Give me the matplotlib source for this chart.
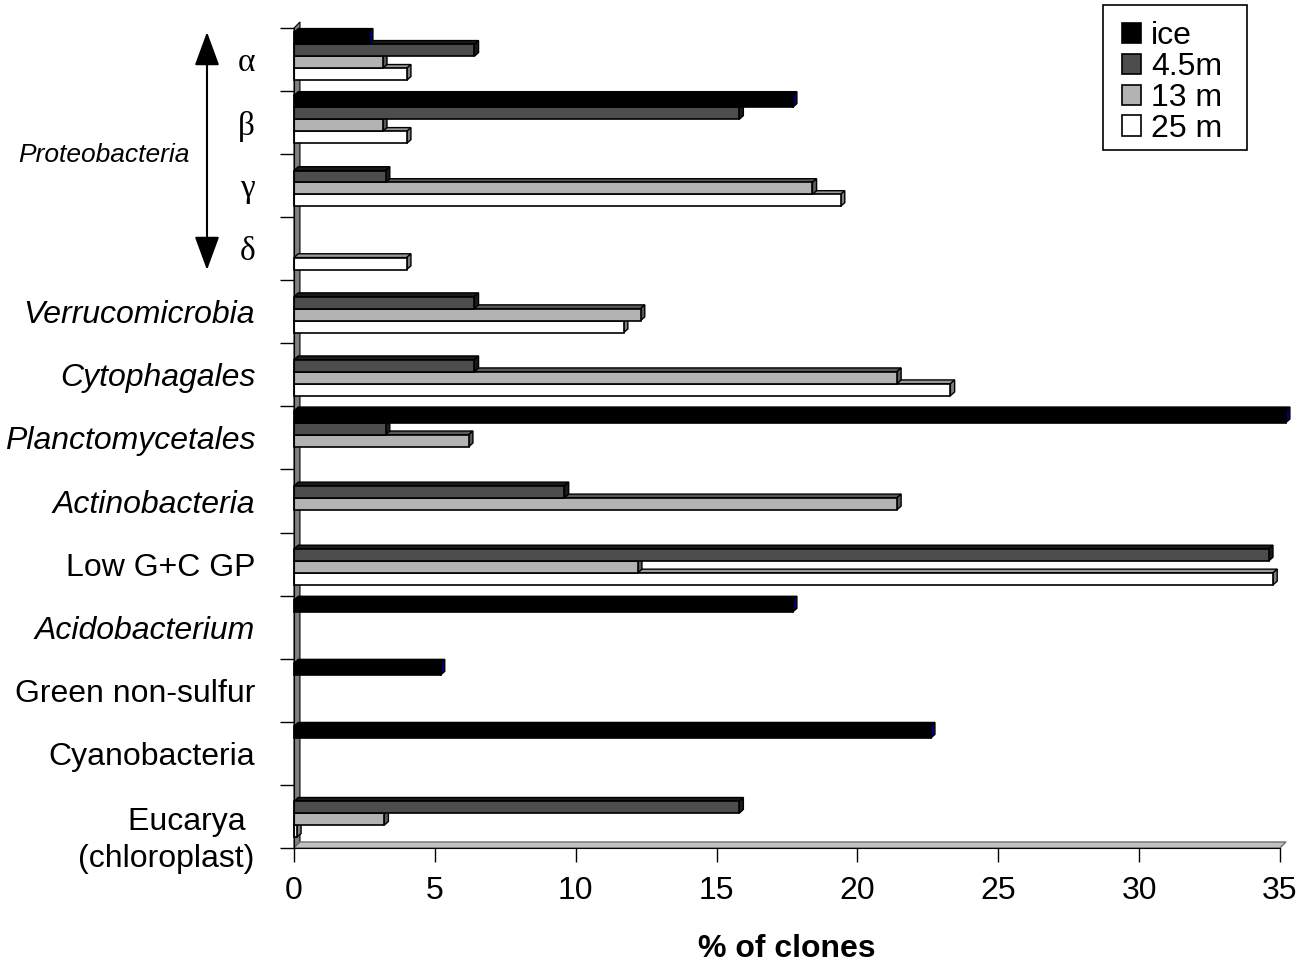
import matplotlib.pyplot as plt
from matplotlib.patches import Polygon, Patch, Rectangle, FancyArrowPatch
import numpy as np

plt.rcParams['font.family'] = ['Liberation Sans', 'DejaVu Sans']

# categories top to bottom
categories = ['α', 'β', 'γ', 'δ', 'Verrucomicrobia', 'Cytophagales',
              'Planctomycetales', 'Actinobacteria', 'Low G+C GP',
              'Acidobacterium', 'Green non-sulfur', 'Cyanobacteria',
              'Eucarya\n(chloroplast)']
italic_cats = ['Verrucomicrobia', 'Cytophagales', 'Planctomycetales',
               'Actinobacteria', 'Acidobacterium']
greek = ['α', 'β', 'γ', 'δ']

series = ['ice', '4.5m', '13 m', '25 m']
ice = [2.65, 17.7, 0, 0, 0, 0, 35.2, 0, 0, 17.7, 5.2, 22.6, 0]
m45 = [6.4, 15.8, 3.25, 0, 6.4, 6.4, 3.25, 9.6, 34.6, 0, 0, 0, 15.8]
m13 = [3.15, 3.15, 18.4, 0, 12.3, 21.4, 6.2, 21.4, 12.2, 0, 0, 0, 3.2]
m25 = [4.0, 4.0, 19.4, 4.0, 11.7, 23.3, 0, 0, 34.75, 0, 0, 0, 0.1]
values = [ice, m45, m13, m25]

front_cols = ['#000000', '#4d4d4d', '#b3b3b3', '#ffffff']
top_cols = ['#000000', '#1a1a1a', '#5a5a5a', '#9a9a9a']
side_cols = ['#000070', '#1a1a1a', '#5a5a5a', '#808080']

fig = plt.figure(figsize=(13.15, 9.67), dpi=100)
ax = fig.add_axes([0.2236, 0.1231, 0.7498, 0.8480])
n = len(categories)
ax.set_xlim(0, 35)
ax.set_ylim(n, 0)

dx, dy = 0.15, 0.06
bh = 0.19
off = 0.07

# back wall and floor
wdx, wdy = 0.21, 0.095
ax.add_patch(Polygon([(0, n), (0, 0), (wdx, -wdy), (wdx, n - wdy)],
                     closed=True, facecolor='#808080', edgecolor='black',
                     lw=0.8, clip_on=False, zorder=1))
ax.add_patch(Polygon([(0, n), (35, n), (35 + wdx, n - wdy), (wdx, n - wdy)],
                     closed=True, facecolor='#c0c0c0', edgecolor='#707070',
                     lw=1.0, clip_on=False, zorder=1))

# bars, bottom series first so upper bars cover the faces below
for j in range(3, -1, -1):
    for i in range(n):
        v = values[j][i]
        if v <= 0:
            continue
        top = i + off + j * bh
        bot = top + bh
        z = 2 + (3 - j)
        ax.add_patch(Polygon([(0, top), (v, top), (v + dx, top - dy), (dx, top - dy)],
                             closed=True, facecolor=top_cols[j], edgecolor='black',
                             lw=1.0, clip_on=False, zorder=z))
        ax.add_patch(Polygon([(v, top), (v, bot), (v + dx, bot - dy), (v + dx, top - dy)],
                             closed=True, facecolor=side_cols[j], edgecolor='black',
                             lw=1.0, clip_on=False, zorder=z))
        ax.barh(i + off + j * bh, v, height=bh, align='edge', color=front_cols[j],
                edgecolor='black', lw=1.2, zorder=z, clip_on=False)

# axes styling
for s in ['top', 'right']:
    ax.spines[s].set_visible(False)
ax.spines['left'].set_zorder(10)
ax.spines['bottom'].set_zorder(10)
ax.set_yticks(np.arange(n + 1))
ax.set_yticklabels([])
ax.tick_params(axis='y', which='major', direction='out', length=10, width=1)
ax.set_yticks(np.arange(n) + 0.5, minor=True)
labels = [c if not c.startswith('Eucarya') else '' for c in categories]
ax.set_yticklabels(labels, minor=True, fontsize=23)
ax.tick_params(axis='y', which='minor', length=0, pad=28)
for lab in ax.get_yticklabels(minor=True):
    t = lab.get_text()
    if t in italic_cats:
        lab.set_style('italic')
    if t in greek:
        lab.set_family('Liberation Serif')
        lab.set_fontsize(24)
ax.text(-0.0406, 12.35, 'Eucarya \n(chloroplast)', transform=ax.get_yaxis_transform(),
        ha='right', va='top', fontsize=23, multialignment='right', linespacing=1.3)

ax.set_xticks(np.arange(0, 36, 5))
ax.tick_params(axis='x', direction='out', length=10, width=1, labelsize=23, pad=10)
ax.set_xlabel('% of clones', fontsize=23, fontweight='bold', labelpad=20)

# Proteobacteria bracket
fig.text(18 / 1315, 1 - 155 / 967, 'Proteobacteria', fontsize=19, style='italic',
         ha='left', va='center')
fig.add_artist(FancyArrowPatch(
    (207 / 1315, 1 - 32 / 967), (207 / 1315, 1 - 270 / 967),
    transform=fig.transFigure, arrowstyle='<|-|>,head_length=1.5,head_width=0.55',
    mutation_scale=14, color='black', lw=1.5, shrinkA=0, shrinkB=0))

# legend with a hand-drawn frame
handles = [Patch(facecolor=c, edgecolor='black', lw=1.2) for c in front_cols]
fig.legend(handles, series, loc='upper left',
           bbox_to_anchor=(1122 / 1315, 1 - 21 / 967), fontsize=23,
           frameon=False, handlelength=0.6, handleheight=0.6, handletextpad=0.3,
           labelspacing=0.03, borderpad=0.0, borderaxespad=0)
fig.add_artist(Rectangle((1103 / 1315, 1 - 150 / 967), 144 / 1315, 145 / 967,
                         transform=fig.transFigure, fill=False, edgecolor='black', lw=1.2))

plt.savefig('out.png', dpi=100)
